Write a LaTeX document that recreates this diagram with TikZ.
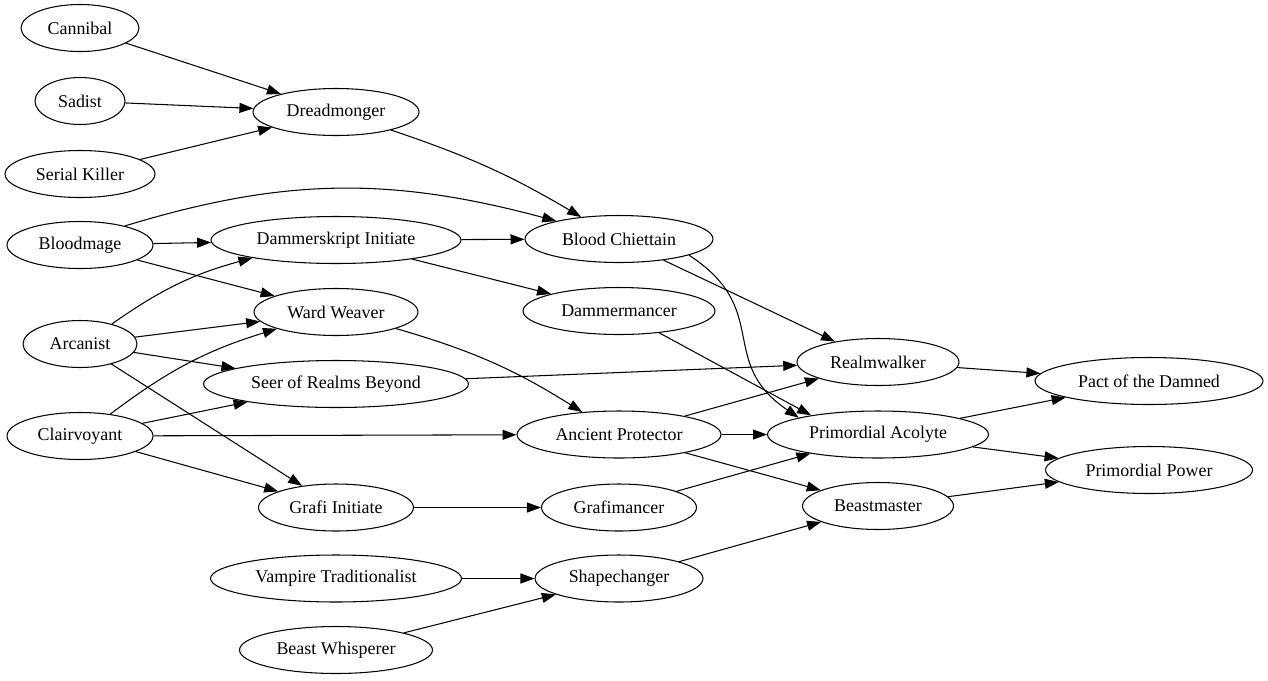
\documentclass[tikz,border=0pt]{standalone}
\usepackage{fontspec}
\newfontfamily\gvfont{LiberationSerif-Regular.ttf}
\usetikzlibrary{shapes.geometric,arrows.meta}

\begin{document}
\begin{tikzpicture}[x=0.02cm,y=0.02cm,->,>={Triangle[length=0.28cm,width=0.2cm]},line width=0.6pt,main node/.style={ellipse,draw,minimum height=0.94cm,inner sep=0pt,font=\gvfont\fontsize{10.2}{12}\selectfont}]

	\useasboundingbox (0,0) rectangle (1268,-680);

	\node[main node,minimum width=2.36cm] (cannibal) at (80,-28) {Cannibal};
	\node[main node,minimum width=1.80cm] (sadist) at (80,-101) {Sadist};
	\node[main node,minimum width=3.00cm] (serial) at (80,-174) {Serial Killer};
	\node[main node,minimum width=2.92cm] (bloodmage) at (80,-245) {Bloodmage};
	\node[main node,minimum width=2.28cm] (arcanist) at (80,-344) {Arcanist};
	\node[main node,minimum width=2.92cm] (clairvoyant) at (80,-436) {Clairvoyant};

	\node[main node,minimum width=3.32cm] (dread) at (336,-112) {Dreadmonger};
	\node[main node,minimum width=5.00cm] (dinitiate) at (336,-240) {Dammerskript Initiate};
	\node[main node,minimum width=3.28cm] (ward) at (336,-312) {Ward Weaver};
	\node[main node,minimum width=5.30cm] (seer) at (336,-384) {Seer of Realms Beyond};
	\node[main node,minimum width=3.10cm] (ginitiate) at (336,-507.5) {Grafi Initiate};
	\node[main node,minimum width=5.02cm] (vampire) at (336,-578.5) {Vampire Traditionalist};
	\node[main node,minimum width=3.86cm] (whisperer) at (336,-650) {Beast Whisperer};

	\node[main node,minimum width=3.76cm] (chieftain) at (619,-239) {Blood Chiettain};
	\node[main node,minimum width=3.84cm] (dmancer) at (619,-311) {Dammermancer};
	\node[main node,minimum width=4.08cm] (ancient) at (619,-434.5) {Ancient Protector};
	\node[main node,minimum width=3.10cm] (gmancer) at (619,-507.5) {Grafimancer};
	\node[main node,minimum width=3.36cm] (shape) at (619,-578.5) {Shapechanger};

	\node[main node,minimum width=3.24cm] (realm) at (878,-362) {Realmwalker};
	\node[main node,minimum width=4.42cm] (acolyte) at (878,-434.5) {Primordial Acolyte};
	\node[main node,minimum width=3.02cm] (beastm) at (878,-506) {Beastmaster};

	\node[main node,minimum width=4.56cm] (pact) at (1149,-381) {Pact of the Damned};
	\node[main node,minimum width=4.14cm] (power) at (1149,-470) {Primordial Power};

	\path
		(cannibal) edge (dread)
		(sadist) edge (dread)
		(serial) edge (dread)

		(dread) edge [bend left=6] (chieftain)

		(bloodmage.23) edge [out=17,in=165] (chieftain.164)
		(bloodmage)
		edge (dinitiate)
		edge (ward)

		(arcanist)
		edge [bend left=10] (dinitiate)
		edge (ward)
		edge (seer)
		edge (ginitiate)

		(clairvoyant)
		edge [bend left=10] (ward)
		edge (seer)
		edge (ancient)
		edge (ginitiate)

		(dinitiate)
		edge (chieftain)
		edge (dmancer)

		(ward) edge [bend left=8] (ancient)
		(seer) edge (realm)
		(ginitiate) edge (gmancer)
		(vampire) edge (shape)
		(whisperer) edge (shape)

		(chieftain) edge (realm)
		(chieftain.-13) edge [out=-33,in=146,looseness=1.3] (acolyte.168)
		(dmancer) edge (acolyte.164)

		(ancient)
		edge (realm)
		edge (acolyte)
		edge (beastm)

		(gmancer) edge (acolyte)
		(shape) edge (beastm)

		(realm) edge (pact)
		(acolyte)
		edge (pact)
		edge (power)
		(beastm) edge (power)
		;

\end{tikzpicture}
\end{document}
